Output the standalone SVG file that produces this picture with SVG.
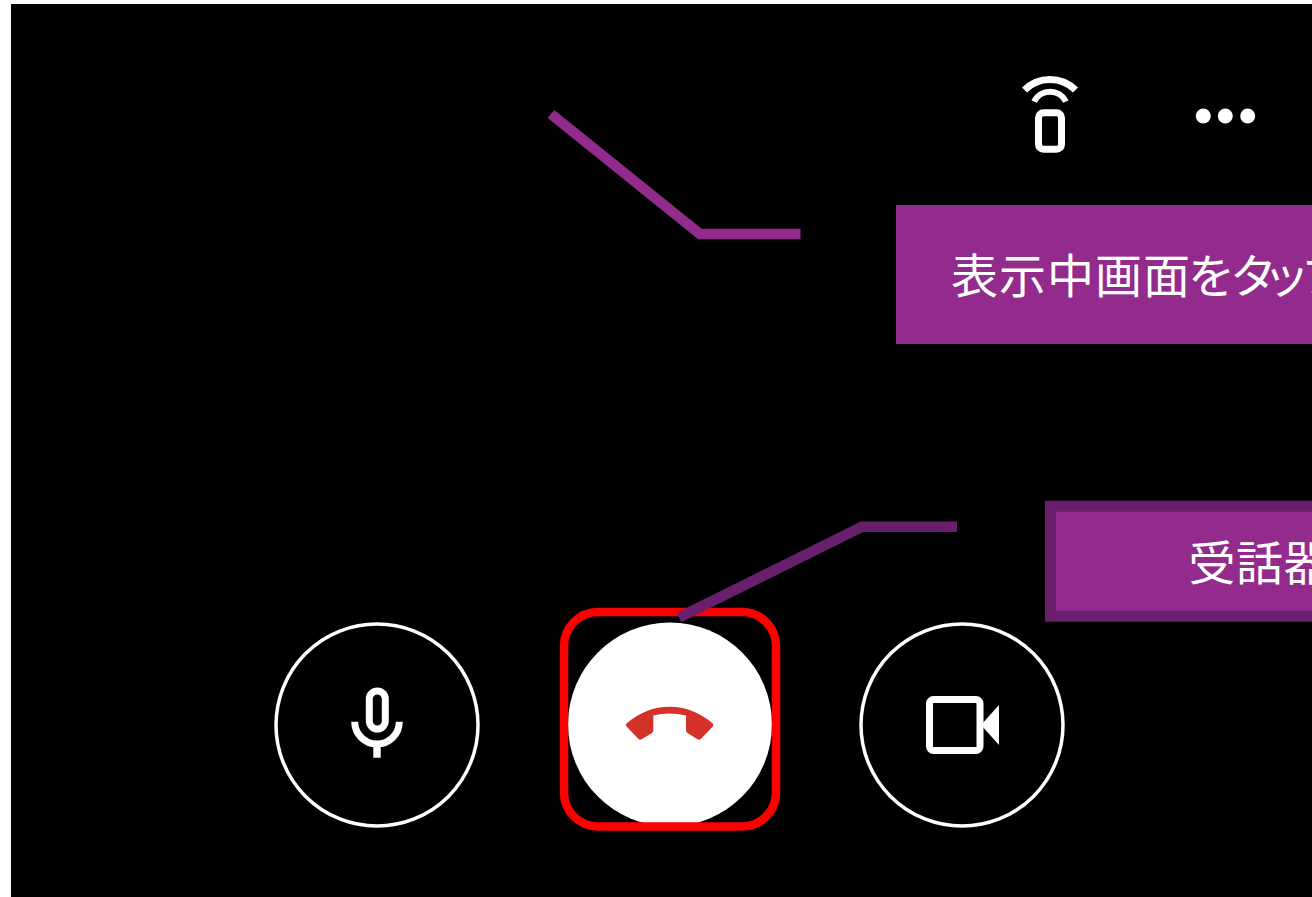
<svg xmlns="http://www.w3.org/2000/svg" width="1312" height="897" viewBox="0 0 1312 897">
<style>
.ring{fill:none;stroke:#fff;stroke-width:3.500}
.ico{fill:none;stroke:#fff}
.lbl{font-family:"Noto Sans CJK JP","Noto Sans",sans-serif;font-size:47px;fill:#fff}
.box{fill:#922b8c}
.conn{fill:none;stroke-linejoin:miter}
</style>
<rect width="1312" height="897" fill="#fff"/>
<rect x="11" y="4" width="1301" height="893" fill="#000"/>
<g id="remote-icon">
<rect class="ico" x="1038.500" y="112.800" width="23" height="36.500" rx="5" stroke-width="7"/>
<path class="ico" d="M1024.500 90A36 36 0 0 1 1075.500 90" stroke-width="7"/>
<path class="ico" d="M1034 101.500A18 18 0 0 1 1066 101.500" stroke-width="6"/>
</g>
<g id="more-icon" fill="#fff">
<circle cx="1203.300" cy="116" r="7.500"/>
<circle cx="1225.300" cy="116" r="7.500"/>
<circle cx="1247.700" cy="116" r="7.500"/>
</g>
<g id="mic-button">
<circle class="ring" cx="377" cy="725" r="101"/>
<rect class="ico" x="369.300" y="691" width="16" height="38" rx="8" stroke-width="7"/>
<path class="ico" d="M354.700 721.700A22.300 22.300 0 0 0 399.300 721.700" stroke-width="7"/>
<rect x="373.300" y="745" width="7.400" height="12.700" fill="#fff"/>
</g>
<g id="hangup-button">
<circle cx="670" cy="724.500" r="102" fill="#fff"/>
<path d="M626.500 723.500Q646 706.700 669.500 706.700Q693 706.700 712.800 723.500Q714 725 712.800 726.500L701 738.800Q699.300 740.500 697 739L687.500 733Q686 732 686 730L686 715.500Q678 713.500 669.500 713.500Q661 713.500 653.300 715.500L653.300 730Q653.300 732 652 733L642 739Q640 740.500 638.300 738.800L626.500 726.500Q625.300 725 626.500 723.500Z" fill="#d3312a"/>
<rect x="564" y="612" width="212" height="214.500" rx="34" fill="none" stroke="#f00" stroke-width="8.500"/>
</g>
<g id="video-button">
<circle class="ring" cx="962" cy="725" r="101"/>
<rect class="ico" x="929.500" y="699.500" width="50.500" height="51" rx="4" stroke-width="7"/>
<polygon points="981,725 999,705 999,745" fill="#fff"/>
</g>
<g id="connectors">
<polyline class="conn" points="551,114 700,234 800.500,234" stroke="#922b8c" stroke-width="10.500"/>
<polyline class="conn" points="679,617.500 862,526.700 957,526.700" stroke="#6a1f6c" stroke-width="10.500"/>
</g>
<g id="label-tap">
<rect class="box" x="896" y="205" width="416" height="139"/>
<text class="lbl" x="951 999 1047 1095 1143 1188 1230 1263 1301" y="293">表示中画面をタップ</text>
</g>
<g id="label-handset">
<rect class="box" x="1050.500" y="506.200" width="290" height="110" stroke="#6a1f6c" stroke-width="11"/>
<text class="lbl" x="1188.500 1236 1283.500" y="580">受話器</text>
</g>
</svg>
